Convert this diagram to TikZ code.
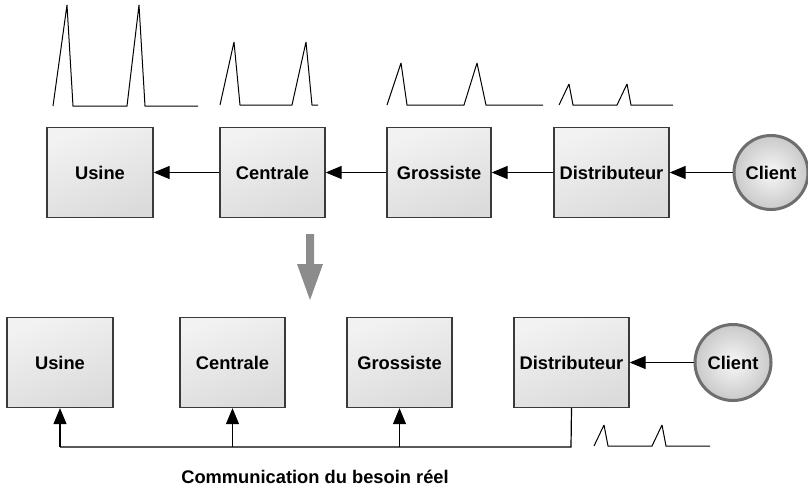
\documentclass[tikz,border=0pt]{standalone}
\usepackage{fontspec}
\setmainfont{Liberation Sans}
\usetikzlibrary{arrows.meta,shapes.geometric}
\definecolor{boxline}{HTML}{3A3A3A}
\definecolor{ringcol}{HTML}{6E6E6E}
\definecolor{bigarrow}{HTML}{8C8C8C}
\tikzset{
  stagebox/.style={draw=boxline, line width=1.3pt, shading=axis, top color=gray!10, bottom color=gray!28, shading angle=20,
    minimum height=90pt, inner sep=0pt, font=\fontsize{18.3}{21}\selectfont\bfseries},
  clientnode/.style={circle, draw=ringcol, line width=3pt, inner color=gray!6, outer color=gray!42,
    minimum size=74pt, inner sep=0pt, font=\fontsize{18.3}{21}\selectfont\bfseries},
  flow/.style={line width=1.2pt, -{Triangle[length=16pt,width=13pt]}},
  sig/.style={line width=1pt, line join=miter, miter limit=3},
}
\begin{document}
\begin{tikzpicture}[x=1pt,y=-1pt]
\useasboundingbox (0,0) rectangle (808,488);
% top row
\node[stagebox, minimum width=106pt] (u1) at (100,172.5) {Usine};
\node[stagebox, minimum width=105pt] (c1) at (272.5,172.5) {Centrale};
\node[stagebox, minimum width=104pt] (g1) at (439,172.5) {Grossiste};
\node[stagebox, minimum width=115pt] (d1) at (611.5,172.5) {Distributeur};
\node[clientnode] (cl1) at (771,172.5) {Client};
\draw[flow] (cl1) -- (d1);
\draw[flow] (d1) -- (g1);
\draw[flow] (g1) -- (c1);
\draw[flow] (c1) -- (u1);
% bottom row
\node[stagebox, minimum width=106pt] (u2) at (60,362.5) {Usine};
\node[stagebox, minimum width=105pt] (c2) at (232.5,362.5) {Centrale};
\node[stagebox, minimum width=105pt] (g2) at (399.5,362.5) {Grossiste};
\node[stagebox, minimum width=115pt] (d2) at (571.5,362.5) {Distributeur};
\node[clientnode, minimum size=76pt] (cl2) at (733,362.5) {Client};
\draw[flow] (cl2) -- (d2);
\coordinate (bc) at (571,447);
\coordinate (bu) at (60,447);
\draw[line width=1.2pt] (d2.south) -- (bc) -- (bu);
\draw[flow] (bu) -- (u2.south);
\draw[flow] (c2.south |- bc) -- (c2.south);
\draw[flow] (g2.south |- bc) -- (g2.south);
\node[font=\fontsize{18.3}{21}\selectfont\bfseries] (lbl) at (315,477) {Communication du besoin réel};
% big gray arrow
\fill[bigarrow] (306,234) -- (314,234) -- (314,264) -- (323,264) -- (310,300) -- (297,264) -- (306,264) -- cycle;
% signals
\draw[sig] (53,106) -- (67,5) -- (73,106) -- (127,106) -- (139,5) -- (145,106) -- (198,106);
\draw[sig] (220,105) -- (234,42) -- (240,105) -- (292,105) -- (306,42) -- (312,105) -- (318,105);
\draw[sig] (387,105) -- (401,63) -- (407,105) -- (464,105) -- (477,63) -- (486,105) -- (543,105);
\draw[sig] (559,105) -- (569,84) -- (573,105) -- (617,105) -- (627,84) -- (631,105) -- (673,105);
\draw[sig] (594,446) -- (604,425) -- (608,446) -- (652,446) -- (662,425) -- (666,446) -- (710,446);
\end{tikzpicture}
\end{document}
